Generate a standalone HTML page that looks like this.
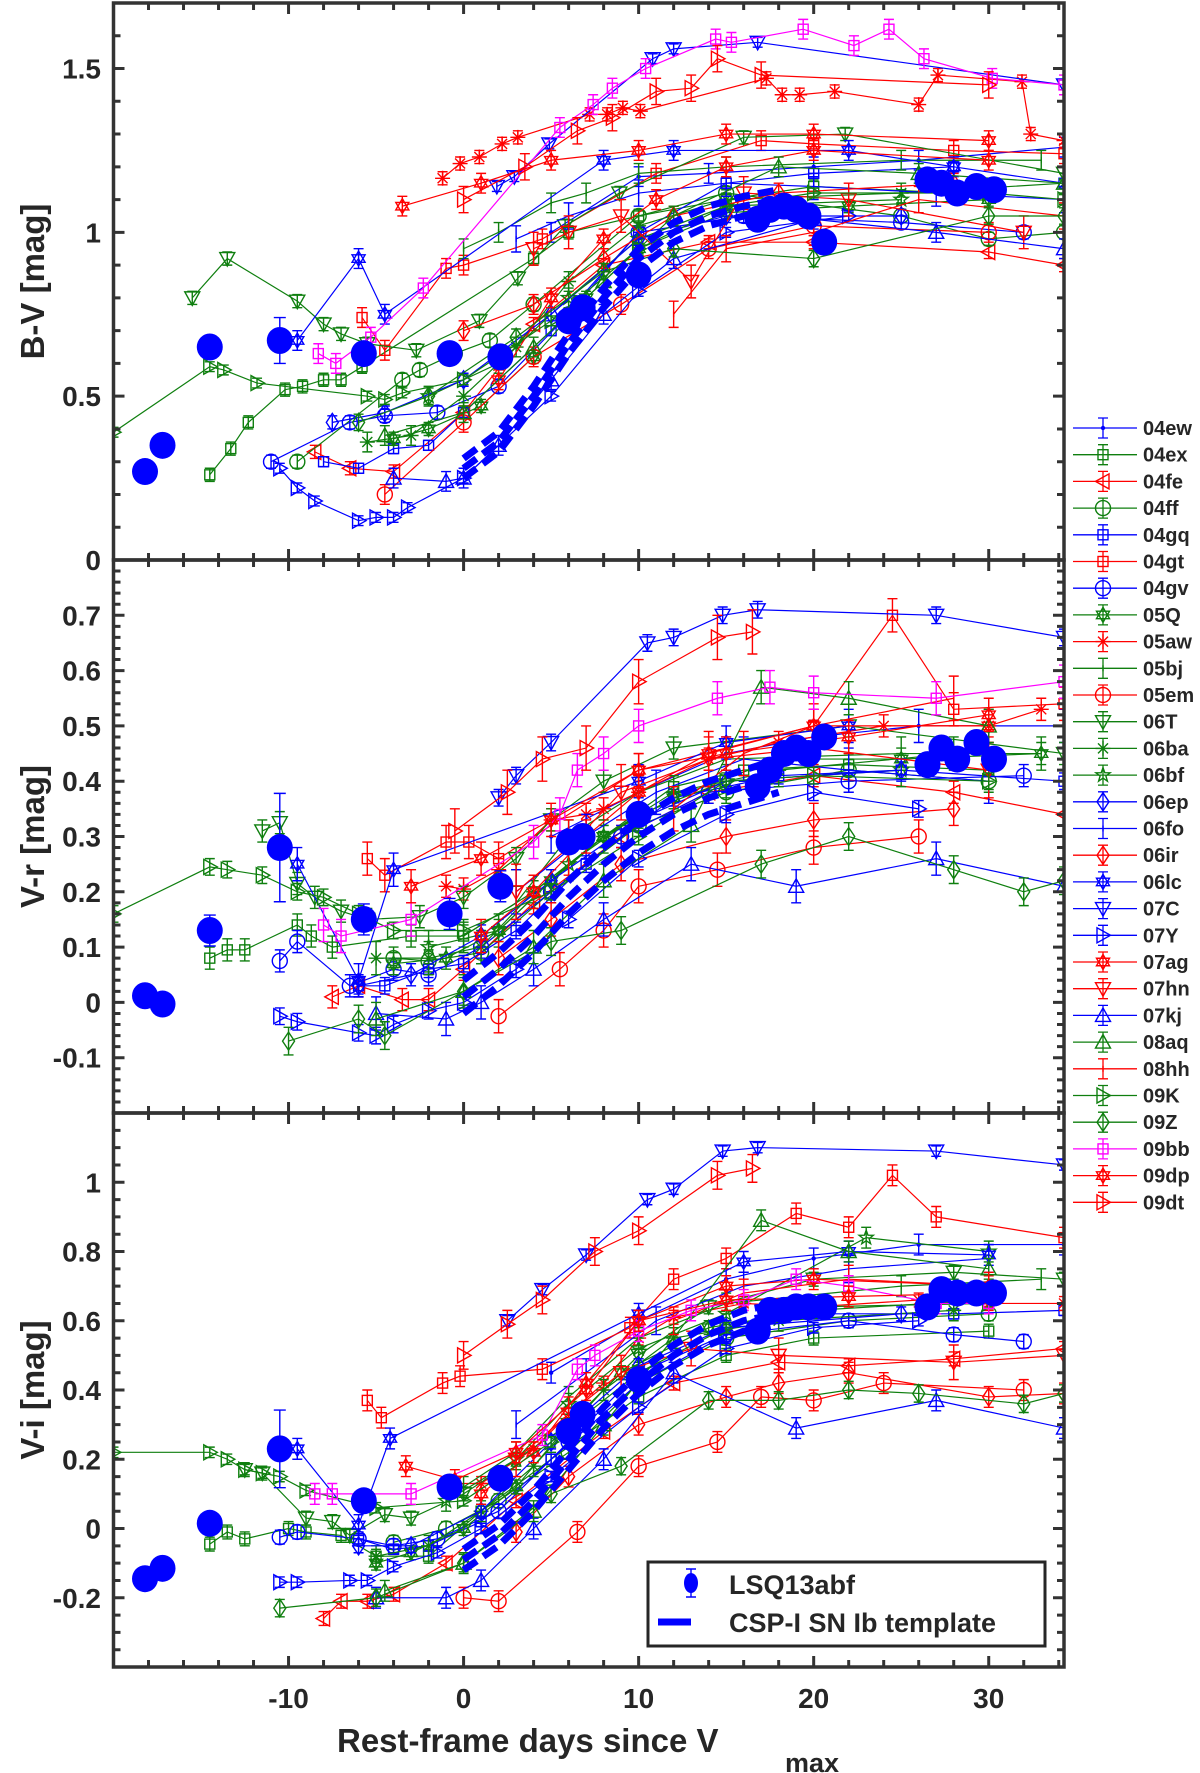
<!DOCTYPE html>
<html><head><meta charset="utf-8"><style>
html,body{margin:0;padding:0;background:#fff}
svg{display:block}
text{font-family:"Liberation Sans",Arial,sans-serif;font-weight:bold;fill:#262626}
</style></head><body>
<svg id="chart" width="1200" height="1773" viewBox="0 0 1200 1773" xmlns="http://www.w3.org/2000/svg"></svg>
<script>
// ---- data ----
const snNames = ["04ew","04ex","04fe","04ff","04gq","04gt","04gv","05Q","05aw","05bj","05em","06T","06ba","06bf","06ep","06fo","06ir","06lc","07C","07Y","07ag","07hn","07kj","08aq","08hh","09K","09Z","09bb","09dp","09dt"];
const snColors = ["b","g","r","g","b","r","b","g","r","g","r","g","g","g","b","b","r","b","b","b","r","r","b","g","r","g","g","m","r","r"];
const snMarkers = [".","s","<","o","s","s","o","h","*","|","o","v","*","p","d","|","d","h","v",">","h","v","^","^","|",">","d","s","h",">"];
const snErr = [0.03,0.02,0.02,0.02,0.015,0.03,0.02,0.02,0.02,0.03,0.03,0.02,0.03,0.03,0.02,0.04,0.03,0.03,0.015,0.015,0.03,0.05,0.03,0.03,0.04,0.015,0.025,0.03,0.03,0.04];
// [day, value] pairs per SN
const bvData = [
 [[5,1.0],[10,1.17],[14,1.18],[20,1.2],[26,1.22],[34.3,1.26]],
 [[-14.5,0.26],[-13.3,0.34],[-12.3,0.42],[-10.2,0.52],[-9.2,0.53],[-8,0.55],[-7,0.55],[-5.8,0.59],[4,0.92],[6,1.0],[10,1.05],[15,1.1],[20,1.14],[28,1.12]],
 [[-8.5,0.33],[-6.5,0.28],[-4,0.27],[0,0.45],[4,0.72],[8,0.9],[14,0.97],[20,0.97],[30,0.94],[34.3,0.9]],
 [[-9.5,0.3],[-3.5,0.55],[-2.5,0.58],[-0.5,0.63],[1.5,0.67],[4,0.78],[10,1.05],[15,1.12],[25,1.05],[30,0.98],[34.3,1.0]],
 [[-8,0.3],[-6,0.28],[-4,0.34],[-2,0.35],[0,0.45],[5,0.7],[10,1.0],[15,1.15],[20,1.18],[28,1.2],[34.3,1.15]],
 [[-5.8,0.74],[-4.5,0.64],[-1,0.89],[0,0.9],[4.5,0.98],[11,1.18],[17,1.28],[20,1.27],[28,1.25],[34.3,1.24]],
 [[-11,0.3],[-6.5,0.42],[-4.5,0.44],[-1.5,0.45],[2,0.53],[6,0.75],[10,1.0],[16,1.05],[25,1.03],[32,1.0]],
 [[-4,0.37],[-2,0.4],[1,0.47],[4,0.62],[7,0.8],[10,0.95],[15,1.06],[22,1.08],[30,1.1]],
 [[-1.2,1.165],[-0.2,1.21],[0.9,1.23],[2.2,1.27],[3.1,1.29],[7.2,1.36],[8.2,1.36],[9.1,1.38],[10.1,1.37],[17.3,1.47],[18.2,1.42],[19.2,1.42],[21.2,1.43],[26,1.39],[27.1,1.48],[31.9,1.46],[32.4,1.3],[34.3,1.28]],
 [[0,0.95],[2,1.0],[5,1.09],[7,1.12],[10,1.18],[15,1.2],[25,1.22],[33,1.22]],
 [[-4.5,0.2],[0,0.42],[4,0.62],[9,0.78],[14,0.95],[20,1.02],[30,1.0]],
 [[-15.5,0.8],[-13.5,0.92],[-9.5,0.79],[-8,0.72],[-7,0.69],[-5.5,0.66],[-2.7,0.64],[0.9,0.73],[3.1,0.86],[5.8,1.02],[8.9,1.12],[16,1.29],[21.8,1.3],[34.3,1.18]],
 [[-5.5,0.36],[-3,0.38],[0,0.5],[3,0.65],[6,0.85],[10,1.02],[15,1.1],[25,1.12],[34.3,1.15]],
 [[-2,0.5],[2,0.6],[6,0.8],[10,0.98],[15,1.08],[25,1.1]],
 [[-7.5,0.42],[-4.5,0.45],[0,0.55],[5,0.75],[10,0.98],[15,1.05],[25,1.05]],
 [[3,0.98],[6,1.05],[10,1.12],[15,1.15],[20,1.14],[27,1.12],[34.3,1.1]],
 [[0,0.7],[4,0.78],[8,0.92],[12,1.05],[18,1.12],[28,1.15]],
 [[-9.5,0.67],[-6,0.92],[-4.5,0.75],[8,1.22],[12,1.25],[22,1.25],[28,1.2]],
 [[1.9,1.14],[2.9,1.17],[4.9,1.27],[10.8,1.53],[12,1.56],[16.8,1.58],[34.3,1.45]],
 [[-10.5,0.28],[-9.5,0.22],[-8.5,0.18],[-6,0.12],[-5,0.13],[-4,0.13],[-3.2,0.16],[0,0.25],[5,0.5],[10,0.82],[15,1.0],[22,1.05]],
 [[2,0.55],[5,0.8],[8,0.98],[11,1.1],[15,1.2],[20,1.25],[30,1.22]],
 [[4,0.95],[6,1.0],[9,1.05],[13,0.85],[16,1.12],[22,1.1],[32,1.0]],
 [[-4,0.25],[-1,0.24],[0,0.25],[2,0.35],[5,0.55],[8,0.75],[12,0.92],[20,1.04],[27,1.0],[34.3,0.95]],
 [[-4.5,0.38],[0,0.45],[4,0.65],[8,0.85],[12,1.05],[18,1.2],[26,1.18],[34.3,1.15]],
 [[12,0.75],[15,0.95],[20,1.0],[26,1.1],[34.3,1.05]],
 [[-20,0.39],[-14.5,0.59],[-13.7,0.58],[-11.8,0.54],[-5.5,0.5],[-4.5,0.49],[-3.5,0.51],[0,0.55],[5,0.73],[10,0.95],[15,1.08],[20,1.12],[30,1.12],[34.3,1.1]],
 [[-6,0.42],[-2,0.5],[3,0.68],[8,0.88],[12,0.95],[20,0.92],[30,1.05],[34.3,1.05]],
 [[-8.3,0.63],[-7.3,0.6],[-5.3,0.68],[-2.3,0.83],[5.5,1.32],[7.4,1.39],[8.5,1.44],[10.4,1.5],[14.4,1.59],[15.3,1.58],[19.4,1.62],[22.3,1.57],[24.3,1.62],[26.3,1.53],[30.2,1.47],[34.3,1.45]],
 [[-3.5,1.08],[1,1.15],[5,1.22],[10,1.25],[15,1.3],[20,1.3],[30,1.28]],
 [[0,1.1],[3.5,1.2],[6.5,1.31],[8.5,1.35],[11,1.43],[13,1.44],[14.5,1.53],[17,1.48],[30,1.45]]
];
const vrData = [
 [[5,0.3],[10,0.38],[15,0.45],[20,0.48],[26,0.5],[34.3,0.5]],
 [[-14.5,0.08],[-13.5,0.095],[-12.5,0.095],[-9.5,0.14],[-8.7,0.12],[-7.5,0.1],[-3,0.12],[0,0.12],[4,0.2],[8,0.3],[12,0.39],[16,0.42],[22,0.43],[30,0.42]],
 [[-7.5,0.01],[-6,0.03],[-3.5,0.005],[-2,0.005],[0,0.06],[4,0.18],[9,0.3],[14,0.38],[20,0.41],[28,0.38],[34.3,0.34]],
 [[-4,0.08],[-2,0.075],[1,0.09],[5,0.2],[10,0.32],[15,0.38],[22,0.42],[30,0.4]],
 [[-6,0.03],[-4.5,0.03],[-2,0.06],[0,0.07],[3,0.13],[7,0.25],[12,0.37],[18,0.41],[25,0.42],[34.3,0.4]],
 [[-5.5,0.26],[-4.5,0.23],[-1,0.29],[0.3,0.29],[2,0.26],[10,0.42],[20,0.5],[24.5,0.7],[28,0.53],[34.3,0.54]],
 [[-10.5,0.075],[-9.5,0.11],[-6.5,0.03],[-4,0.06],[-2,0.05],[1,0.1],[5,0.2],[9,0.3],[14,0.38],[22,0.4],[32,0.41]],
 [[-4,0.07],[-1,0.08],[2,0.13],[5,0.22],[8,0.3],[12,0.37],[18,0.44],[25,0.44],[33,0.45]],
 [[-1,0.21],[0,0.205],[2,0.24],[5,0.33],[7,0.34],[8,0.35],[10,0.38],[14,0.44],[18,0.47],[24,0.5],[30,0.5],[33,0.53]],
 [[0,0.12],[3,0.18],[6,0.3],[10,0.38],[15,0.44],[25,0.45],[33,0.45]],
 [[2,-0.025],[5.5,0.06],[8,0.13],[10,0.21],[14.5,0.24],[20,0.28],[26,0.3]],
 [[-11.5,0.31],[-10.5,0.325],[-9.5,0.215],[-8.5,0.19],[-7,0.165],[-5.5,0.15],[-2.5,0.155],[0,0.19],[3,0.26],[5,0.33],[8,0.4],[12,0.46],[22,0.5],[34.3,0.45]],
 [[-5,0.08],[-2,0.08],[1,0.1],[4,0.2],[8,0.3],[12,0.38],[18,0.42],[28,0.45]],
 [[-2,0.1],[2,0.13],[6,0.25],[10,0.34],[15,0.4],[25,0.42]],
 [[-6,0.03],[-3,0.05],[1,0.12],[5,0.22],[10,0.33],[15,0.4],[25,0.42]],
 [[3,0.2],[7,0.3],[11,0.38],[16,0.44],[22,0.42],[30,0.4]],
 [[2,0.08],[5,0.15],[9,0.25],[15,0.3],[20,0.33],[28,0.35]],
 [[-9.5,0.25],[-6,0.04],[-4,0.24],[10,0.4],[15,0.47],[22,0.5]],
 [[2,0.37],[3,0.41],[5,0.47],[10.5,0.65],[12,0.66],[14.8,0.7],[16.8,0.71],[27,0.7],[34.3,0.66]],
 [[-10.5,-0.025],[-9.5,-0.035],[-6,-0.055],[-5,-0.06],[-4,-0.04],[-2,-0.015],[0,0.0],[3,0.06],[6,0.15],[10,0.26],[15,0.34],[20,0.38],[26,0.35]],
 [[1,0.12],[4,0.2],[7,0.3],[10,0.38],[14,0.45],[20,0.5],[30,0.5]],
 [[3,0.2],[6,0.28],[9,0.38],[14,0.44],[20,0.46],[30,0.42]],
 [[-5,-0.02],[-1,-0.03],[1,0.0],[4,0.06],[8,0.15],[13,0.25],[19,0.21],[27,0.26],[34.3,0.21]],
 [[-5,-0.03],[0,0.02],[4,0.1],[8,0.22],[13,0.32],[17,0.57],[22,0.55],[30,0.5]],
 [[12,0.35],[16,0.45],[20,0.5],[28,0.55]],
 [[-20,0.16],[-14.5,0.245],[-13.5,0.24],[-11.5,0.23],[-9.5,0.2],[-8,0.19],[-6,0.16],[-4,0.13],[0,0.13],[5,0.2],[10,0.3],[15,0.4],[20,0.41],[30,0.4]],
 [[-10,-0.07],[-6,-0.03],[-4.5,-0.06],[0,0.02],[5,0.11],[9,0.13],[17,0.25],[22,0.3],[28,0.24],[32,0.2],[34.3,0.22]],
 [[-8,0.14],[-7,0.12],[-3,0.15],[4,0.29],[5.5,0.34],[6.5,0.42],[8,0.45],[10,0.5],[14.5,0.55],[17.5,0.57],[20,0.56],[27,0.55],[34.3,0.58]],
 [[-3,0.21],[1,0.26],[5,0.33],[10,0.42],[15,0.45],[22,0.48],[30,0.52]],
 [[-0.5,0.31],[2.5,0.38],[4.5,0.44],[7,0.46],[10,0.58],[14.5,0.66],[16.5,0.67]]
];
const viData = [
 [[5,0.45],[10,0.6],[15,0.72],[20,0.78],[26,0.82],[34.3,0.82]],
 [[-14.5,-0.045],[-13.5,-0.01],[-12.5,-0.03],[-10,0],[-9,-0.01],[-7,-0.02],[-5,-0.08],[-2,-0.08],[1,0.05],[5,0.2],[10,0.38],[15,0.5],[20,0.55],[30,0.57]],
 [[-8,-0.26],[-7,-0.21],[-5.5,-0.21],[-4,-0.19],[-1,-0.1],[3,0.08],[8,0.28],[12,0.42],[18,0.48],[22,0.47],[28,0.49],[34.3,0.52]],
 [[-4,-0.04],[-1,0],[2,0.08],[6,0.22],[10,0.42],[15,0.55],[22,0.6],[30,0.62]],
 [[-6,-0.03],[-4,-0.06],[-2,-0.05],[1,0.02],[5,0.2],[10,0.42],[15,0.56],[20,0.62],[28,0.62],[34.3,0.63]],
 [[-5.5,0.37],[-4.7,0.32],[-1.2,0.42],[-0.2,0.44],[4.5,0.46],[9.5,0.58],[12,0.72],[15,0.78],[19,0.91],[22,0.87],[24.5,1.02],[27,0.9],[34.3,0.84]],
 [[-10.5,-0.025],[-9.5,-0.01],[-6,-0.03],[-4,-0.05],[-1.5,-0.03],[2,0.05],[6,0.25],[10,0.45],[15,0.56],[22,0.6],[28,0.56],[32,0.54]],
 [[-5,-0.1],[-3,-0.07],[0,0],[3,0.12],[6,0.3],[9,0.45],[14,0.58],[20,0.63],[30,0.66]],
 [[-0.5,0.13],[1,0.13],[4,0.23],[6,0.33],[8,0.42],[10,0.55],[12,0.61],[16,0.65],[20,0.64],[26,0.66],[30,0.65],[34.3,0.65]],
 [[0,0.12],[3,0.22],[6,0.38],[10,0.55],[15,0.65],[25,0.7],[33,0.72]],
 [[0,-0.2],[2,-0.21],[6.5,-0.01],[10,0.18],[14.5,0.25],[17,0.38],[20,0.37],[24,0.42],[32,0.4]],
 [[-12.5,0.17],[-11.5,0.16],[-9,0.03],[-7.5,0.02],[-6.5,-0.02],[-4.5,0.04],[-3,0.03],[0,0.1],[3,0.2],[6,0.3],[10,0.5],[14,0.64],[20,0.72],[28,0.74],[34.3,0.72]],
 [[-5,-0.08],[-2,-0.05],[1,0.05],[4,0.18],[8,0.4],[12,0.55],[18,0.6],[28,0.63]],
 [[-1,0.08],[3,0.2],[6,0.36],[10,0.52],[15,0.62],[23,0.84],[30,0.8]],
 [[-6,-0.05],[-3,-0.05],[1,0.05],[5,0.25],[10,0.47],[15,0.58],[25,0.62]],
 [[3,0.3],[7,0.45],[11,0.6],[16,0.7],[22,0.75],[30,0.78]],
 [[3,-0.01],[6,0.15],[10,0.3],[15,0.38],[18,0.42],[22,0.45],[30,0.38],[34.3,0.39]],
 [[-9.5,0.23],[-6,0.01],[-4.2,0.26],[10,0.62],[16,0.77],[22,0.8],[30,0.79]],
 [[2.5,0.6],[4.5,0.69],[7,0.79],[10.5,0.95],[12,0.98],[14.8,1.09],[16.8,1.1],[27,1.09],[34.3,1.05]],
 [[-10.5,-0.155],[-9.5,-0.155],[-6.5,-0.15],[-5.5,-0.15],[-4,-0.11],[-1.5,-0.07],[1,0],[5,0.15],[10,0.35],[15,0.52],[20,0.58],[26,0.6]],
 [[1,0.1],[4,0.22],[7,0.42],[10,0.6],[15,0.7],[20,0.72],[30,0.7]],
 [[3,0.2],[6,0.33],[9,0.45],[13,0.52],[18,0.5],[28,0.48],[34.3,0.5]],
 [[-5,-0.2],[-1,-0.2],[1,-0.15],[4,0.0],[8,0.2],[12,0.45],[19,0.29],[27,0.37],[34.3,0.29]],
 [[-4.5,-0.18],[0,-0.1],[4,0.05],[8,0.3],[12,0.55],[17,0.89],[22,0.8],[30,0.75]],
 [[12,0.6],[16,0.68],[22,0.72],[30,0.7]],
 [[-20,0.22],[-14.5,0.22],[-13.5,0.2],[-12.5,0.17],[-11.5,0.16],[-10.5,0.15],[-9,0.11],[-5,0.06],[0,0.08],[5,0.25],[10,0.45],[15,0.58],[20,0.64],[30,0.65]],
 [[-10.5,-0.23],[-5,-0.2],[0,-0.1],[5,0.1],[9,0.18],[14,0.37],[18,0.37],[22,0.4],[26,0.39],[32,0.36],[34.3,0.39]],
 [[-8.5,0.1],[-7.5,0.1],[-3,0.1],[4.5,0.27],[6.5,0.46],[7.5,0.5],[10,0.57],[13,0.63],[16,0.66],[19,0.72],[22,0.7],[27,0.65],[30,0.65]],
 [[-3.3,0.18],[-0.5,0.14],[3,0.22],[7,0.4],[10,0.6],[15,0.66],[22,0.67],[30,0.68]],
 [[0,0.5],[2.5,0.59],[4.5,0.66],[7.5,0.8],[10,0.86],[14.5,1.02],[16.5,1.04]]
];
// LSQ13abf
const lsqDays = [-18.2,-17.2,-14.5,-10.5,-5.7,-0.8,2.1,6,6.8,10,16.8,17.5,18.3,19,19.7,20.6,26.5,27.3,28.2,29.3,30.3];
const lsqBV = [0.27,0.35,0.65,0.67,0.63,0.63,0.62,0.73,0.77,0.87,1.04,1.07,1.08,1.07,1.05,0.97,1.16,1.15,1.12,1.14,1.13];
const lsqVR = [0.012,-0.003,0.13,0.28,0.15,0.16,0.21,0.29,0.30,0.34,0.39,0.42,0.45,0.46,0.45,0.48,0.43,0.46,0.44,0.47,0.44];
const lsqVI = [-0.145,-0.115,0.015,0.23,0.08,0.12,0.145,0.28,0.33,0.43,0.57,0.63,0.63,0.64,0.64,0.64,0.64,0.69,0.68,0.68,0.68];
const lsqErr = [0.01,0.01,0.02,0.07,0.02,0.02,0.02,0.01,0.01,0.01,0.01,0.01,0.01,0.01,0.01,0.01,0.01,0.01,0.01,0.01,0.01];
// template (mean and spread)
const tplDays = [0,2,4,6,8,10,12,14,16,18];
const tplBV = [0.28,0.36,0.5,0.66,0.8,0.92,1.0,1.05,1.08,1.1];
const tplVR = [0.01,0.06,0.12,0.19,0.25,0.3,0.34,0.37,0.39,0.41];
const tplVI = [-0.09,-0.02,0.08,0.2,0.32,0.42,0.5,0.56,0.6,0.62];
const tplSig = [0.03,0.03,0.03,0.03,0.03,0.03,0.03,0.03,0.03,0.03];

const xTicks = [-10,0,10,20,30];
const bvTicks = [0,0.5,1,1.5];
const vrTicks = [-0.1,0,0.1,0.2,0.3,0.4,0.5,0.6,0.7];
const viTicks = [-0.2,0,0.2,0.4,0.6,0.8,1];

// ---- drawing ----
const NS="http://www.w3.org/2000/svg";
const svg=document.getElementById('chart');
const COL={b:'#0000ff',g:'#0f7f0f',r:'#ff0000',m:'#ff00ff'};
const XL=113.5, XR=1064, XMIN=-20, XMAX=34.3;
function sx(d){return XL+(d-XMIN)/(XMAX-XMIN)*(XR-XL);}
function mk(tag,attrs,parent){const e=document.createElementNS(NS,tag);for(const k in attrs)e.setAttribute(k,attrs[k]);(parent||svg).appendChild(e);return e;}
function fmtTick(v){if(Math.abs(v)<1e-9)return '0';if(Math.abs(v-1)<1e-9)return '1';return v.toFixed(1);}

const panels=[
 {name:'bv',top:3,bot:560,ymin:0,ymax:1.7,ticks:bvTicks,minor:0.1,data:bvData,lsq:lsqBV,tpl:tplBV,title:'B-V [mag]'},
 {name:'vr',top:560,bot:1113,ymin:-0.2,ymax:0.8,ticks:vrTicks,minor:0.02,data:vrData,lsq:lsqVR,tpl:tplVR,title:'V-r [mag]'},
 {name:'vi',top:1113,bot:1667,ymin:-0.4,ymax:1.2,ticks:viTicks,minor:0.05,data:viData,lsq:lsqVI,tpl:tplVI,title:'V-i [mag]'}
];

function marker(g,type,x,y,c){
 const s=7.5;
 const a={fill:'none',stroke:c,'stroke-width':1.4};
 let e;
 if(type==='.'){e=mk('circle',{cx:x,cy:y,r:2.2,fill:c},g);}
 else if(type==='s'){e=mk('rect',Object.assign({x:x-5,y:y-5,width:10,height:10},a),g);}
 else if(type==='o'){e=mk('circle',Object.assign({cx:x,cy:y,r:s},a),g);}
 else if(type==='d'){e=mk('polygon',Object.assign({points:`${x},${y-s*1.2} ${x+s*0.8},${y} ${x},${y+s*1.2} ${x-s*0.8},${y}`},a),g);}
 else if(type==='v'){e=mk('polygon',Object.assign({points:`${x-s},${y-s*0.8} ${x+s},${y-s*0.8} ${x},${y+s}`},a),g);}
 else if(type==='^'){e=mk('polygon',Object.assign({points:`${x-s},${y+s*0.8} ${x+s},${y+s*0.8} ${x},${y-s}`},a),g);}
 else if(type==='<'){e=mk('polygon',Object.assign({points:`${x+s*0.8},${y-s} ${x+s*0.8},${y+s} ${x-s},${y}`},a),g);}
 else if(type==='>'){e=mk('polygon',Object.assign({points:`${x-s*0.8},${y-s} ${x-s*0.8},${y+s} ${x+s},${y}`},a),g);}
 else if(type==='*'){e=mk('path',Object.assign({d:`M${x-s},${y}H${x+s}M${x},${y-s}V${y+s}M${x-5},${y-5}L${x+5},${y+5}M${x-5},${y+5}L${x+5},${y-5}`},a),g);}
 else if(type==='h'){e=mk('path',Object.assign({d:`M${x},${y-s}L${x+s*0.87},${y+s*0.5}H${x-s*0.87}ZM${x},${y+s}L${x+s*0.87},${y-s*0.5}H${x-s*0.87}Z`},a),g);}
 else if(type==='p'){let pts=[];for(let i=0;i<10;i++){const r=i%2?s*0.4:s;const t=-Math.PI/2+i*Math.PI/5;pts.push((x+r*Math.cos(t)).toFixed(1)+','+(y+r*Math.sin(t)).toFixed(1));}e=mk('polygon',Object.assign({points:pts.join(' ')},a),g);}
 else if(type==='|'){e=mk('path',Object.assign({d:`M${x},${y-3}V${y+3}`},a),g);}
 return e;
}

panels.forEach(p=>{
 const sy=v=>p.bot-(v-p.ymin)/(p.ymax-p.ymin)*(p.bot-p.top);
 const clipId='clip-'+p.name;
 const cp=mk('clipPath',{id:clipId});mk('rect',{x:XL,y:p.top,width:XR-XL,height:p.bot-p.top},cp);
 const g=mk('g',{'clip-path':`url(#${clipId})`});
 
 
 p.data.forEach((ser,i)=>{
  const c=COL[snColors[i]];
  const sg=mk('g',{},g);
  
  
  mk('polyline',{points:ser.map(q=>sx(q[0])+','+sy(q[1])).join(' '),fill:'none',stroke:c,'stroke-width':1.2},sg);
  ser.forEach(q=>{
   const x=sx(q[0]),y1=sy(q[1]+snErr[i]),y2=sy(q[1]-snErr[i]);
   mk('path',{d:`M${x},${y1}V${y2}M${x-5},${y1}H${x+5}M${x-5},${y2}H${x+5}`,stroke:c,'stroke-width':1.4,fill:'none'},sg);
   const m=marker(sg,snMarkers[i],x,sy(q[1]),c);
   
   
  });
 });
 const tg=mk('g',{},g);
 
 
 [-1,0,1].forEach(k=>{
  mk('polyline',{points:tplDays.map((d,j)=>sx(d)+','+sy(p.tpl[j]+k*tplSig[j])).join(' '),fill:'none',stroke:'#0000ff','stroke-width':7,'stroke-dasharray':'16 8'},tg);
 });
 const lg=mk('g',{},g);
 
 
 lsqDays.forEach((d,j)=>{
  const x=sx(d),v=p.lsq[j],e=lsqErr[j]*(p.name==='vr'?1.4:(p.name==='vi'?1.6:1));
  mk('path',{d:`M${x},${sy(v+e)}V${sy(v-e)}M${x-6},${sy(v+e)}H${x+6}M${x-6},${sy(v-e)}H${x+6}`,stroke:'#0000ff','stroke-width':1.4},lg);
  const c=mk('ellipse',{cx:x,cy:sy(v),rx:13,ry:13.5,fill:'#0000ff'},lg);
  
  
 });
 const ax=mk('g',{});
 
 
 let d='';
 for(let v=-20;v<=34;v+=2){const x=sx(v);const L=(v%10===0)?11:7;d+=`M${x},${p.top}v${L}M${x},${p.bot}v${-L}`;}
 const nMin=Math.round((p.ymax-p.ymin)/p.minor);
 for(let k=0;k<=nMin;k++){const v=p.ymin+k*p.minor;const y=sy(v);const major=p.ticks.some(t=>Math.abs(t-v)<1e-6);const L=major?11:7;d+=`M${XL},${y}h${L}M${XR},${y}h${-L}`;}
 mk('path',{d:d,stroke:'#333','stroke-width':3,fill:'none'},ax);
 mk('rect',{x:XL,y:p.top,width:XR-XL,height:p.bot-p.top,fill:'none',stroke:'#333','stroke-width':3.5},ax);
 p.ticks.forEach(v=>{
  const t=mk('text',{x:101,y:sy(v)+10,'text-anchor':'end','font-size':28},ax);
  t.textContent=fmtTick(v);
  
  
 });
 const yc=(p.top+p.bot)/2;
 const tt=mk('text',{x:0,y:0,'text-anchor':'middle','font-size':33,transform:`translate(44,${yc}) rotate(-90)`},ax);
 tt.textContent=p.title;
 
 
});
xTicks.forEach(v=>{
 const t=mk('text',{x:sx(v),y:1708,'text-anchor':'middle','font-size':28});
 t.textContent=String(v);
 
 
});
const xt=mk('text',{x:337,y:1752,'font-size':33});
xt.textContent='Rest-frame days since V';


const xs=mk('text',{x:785,y:1772,'font-size':27});
xs.textContent='max';



const leg=mk('g',{});


snNames.forEach((n,i)=>{
 const y=428+i*26.7, c=COL[snColors[i]];
 const eg=mk('g',{},leg);
 
 
 mk('path',{d:`M1073,${y}H1137M1103,${y-10}V${y+10}M1098,${y-10}H1108M1098,${y+10}H1108`,stroke:c,'stroke-width':1.3,fill:'none'},eg);
 marker(eg,snMarkers[i],1103,y,c);
 const t=mk('text',{x:1143,y:y+7,'font-size':20},eg);
 t.textContent=n;
});
const il=mk('g',{});


mk('rect',{x:648,y:1562,width:397,height:84,fill:'#fff',stroke:'#262626','stroke-width':3},il);
mk('path',{d:'M691,1569V1597M686,1569H696M686,1597H696',stroke:'#0000ff','stroke-width':1.4},il);
mk('ellipse',{cx:691,cy:1583,rx:7,ry:10,fill:'#0000ff'},il);
const l1=mk('text',{x:729,y:1594,'font-size':27},il);l1.textContent='LSQ13abf';
mk('path',{d:'M658,1622H691',stroke:'#0000ff','stroke-width':7},il);
const l2=mk('text',{x:729,y:1632,'font-size':27},il);l2.textContent='CSP-I SN Ib template';
</script>
</body></html>
